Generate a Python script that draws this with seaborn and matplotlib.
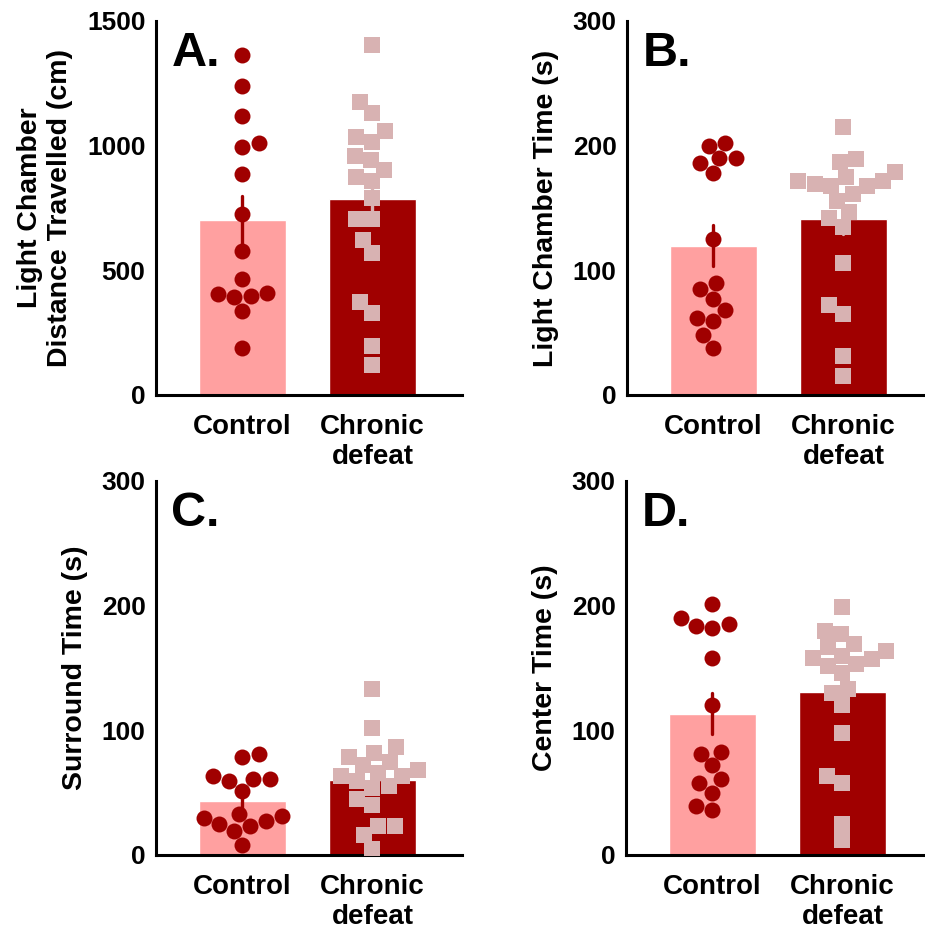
import matplotlib
matplotlib.use("Agg")
import matplotlib.pyplot as plt
import seaborn as sns
import pandas as pd
import warnings

warnings.filterwarnings("ignore")

# group names and tick labels
groups = ["Control", "Chronic defeat"]
tick_labels = ["Control", "Chronic\ndefeat"]

# values
a_control = [1363, 1239, 1119, 993, 1009, 886, 724, 579, 466, 405, 394, 396, 410, 338, 187]
a_defeat = [1402, 1174, 1130, 1059, 1015, 1033, 958, 942, 902, 857, 873, 791, 704, 704,
            622, 568, 374, 330, 196, 120]
b_control = [202, 200, 190, 190, 186, 178, 125, 90, 85, 77, 68, 62, 59, 48, 38]
b_defeat = [215, 189, 187, 172, 179, 175, 172, 169, 168, 168, 156, 161, 142, 147, 135,
            106, 72, 65, 31, 15]
c_control = [81, 79, 63, 61, 59, 61, 51, 33, 23, 30, 31, 27, 25, 19, 8]
c_defeat = [133, 102, 87, 82, 79, 75, 72, 68, 63, 63, 66, 59, 55, 54, 45, 40, 23, 23, 16, 5]
d_control = [201, 190, 184, 182, 185, 158, 120, 81, 83, 72, 61, 58, 50, 39, 36]
d_defeat = [199, 177, 180, 167, 164, 169, 158, 153, 152, 157, 160, 146, 130, 133, 120,
            98, 63, 58, 25, 12]

panels = [
    ("A.", "Light Chamber\nDistance Travelled (cm)", a_control, a_defeat, 1500, [0, 500, 1000, 1500]),
    ("B.", "Light Chamber Time (s)", b_control, b_defeat, 300, [0, 100, 200, 300]),
    ("C.", "Surround Time (s)", c_control, c_defeat, 300, [0, 100, 200, 300]),
    ("D.", "Center Time (s)", d_control, d_defeat, 300, [0, 100, 200, 300]),
]

light = "#FFA0A0"
dark = "#A00000"
square_col = "#D8B2B2"

sns.set_style("white")
plt.rcParams["font.family"] = ["Liberation Sans", "DejaVu Sans"]
plt.rcParams["font.weight"] = "bold"
plt.rcParams["text.color"] = "black"
plt.rcParams["axes.labelcolor"] = "black"
plt.rcParams["xtick.color"] = "black"
plt.rcParams["ytick.color"] = "black"

W, H = 925, 936
fig = plt.figure(figsize=(W / 100, H / 100), dpi=100)

# axes boxes in pixels: left, top, width, height
boxes = [(156, 21, 306, 374), (627, 21, 306, 374), (156, 481, 306, 374), (626, 481, 306, 374)]

for (letter, ylabel, ctrl, defeat, ymax, yticks), (l, t, w, h) in zip(panels, boxes):
    ax = fig.add_axes([l / W, 1 - (t + h) / H, w / W, h / H])
    df = pd.DataFrame({
        "group": [groups[0]] * len(ctrl) + [groups[1]] * len(defeat),
        "value": ctrl + defeat,
    })
    sub_c = df[df.group == groups[0]]
    sub_d = df[df.group == groups[1]]

    sns.barplot(data=sub_c, x="group", y="value", order=groups, color=light, width=0.67,
                errorbar="se", err_kws={"color": dark, "linewidth": 2.4}, ax=ax,
                saturation=1)
    sns.barplot(data=sub_d, x="group", y="value", order=groups, color=dark, width=0.67,
                errorbar="se", err_kws={"color": square_col, "linewidth": 2.4}, ax=ax,
                saturation=1)
    sns.swarmplot(data=sub_c, x="group", y="value", order=groups, color=dark, marker="o",
                  size=11.5, linewidth=0, ax=ax)
    sns.swarmplot(data=sub_d, x="group", y="value", order=groups, color=square_col, marker="s",
                  size=11.5, linewidth=0, ax=ax)

    ax.set_xlim(-0.665, 1.689)
    ax.set_ylim(0, ymax)
    ax.set_yticks(yticks)
    ax.set_xticks([0, 1])
    ax.set_xticklabels(tick_labels, fontsize=20, fontweight="bold", color="black")
    ax.tick_params(axis="x", length=0, pad=14)
    ax.tick_params(axis="y", length=6.5, width=2.2, pad=1, labelsize=19, direction="out",
                   colors="black")
    for lab in ax.get_yticklabels():
        lab.set_fontweight("bold")
    ax.set_xlabel("")
    ax.set_ylabel(ylabel, fontsize=20.5, fontweight="bold", labelpad=10, color="black")
    sns.despine(ax=ax)
    for s in ["left", "bottom"]:
        ax.spines[s].set_linewidth(2.2)
        ax.spines[s].set_color("black")
    ax.text(0.05, 0.88, letter, transform=ax.transAxes, fontsize=35, fontweight="bold",
            ha="left", va="baseline", color="black")

fig.savefig("out.png", dpi=100)
